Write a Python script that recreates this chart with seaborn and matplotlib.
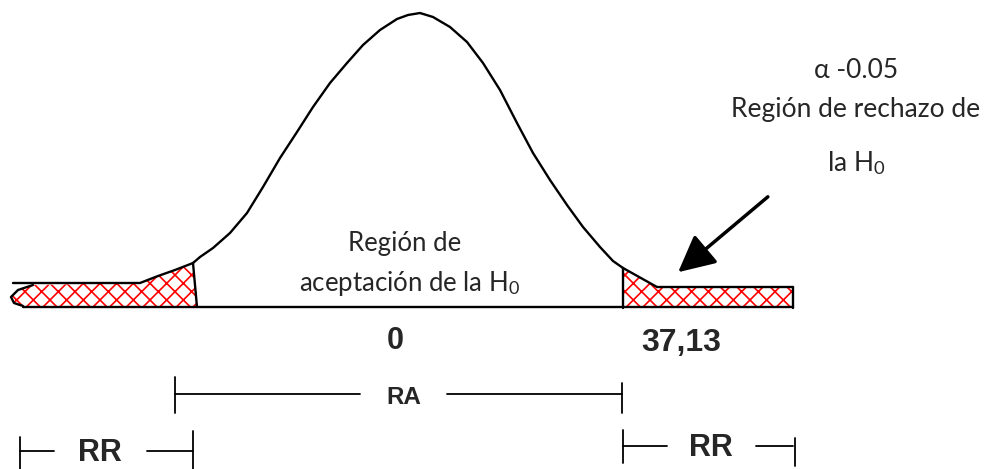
import numpy as np
import pandas as pd
import seaborn as sns
import matplotlib.pyplot as plt

# bell curve outline (x, y in picture pixels, y downwards)
curve_x = [193, 200, 213, 230, 247, 263, 280, 297, 313, 330, 347, 363, 380, 397, 408,
           420, 433, 450, 467, 483, 500, 517, 533, 550, 567, 583, 600, 613, 623]
curve_y = [263, 257, 248, 233, 213, 187, 158, 132, 107, 83, 63, 45, 30, 19, 15,
           13, 17, 27, 42, 63, 90, 123, 153, 180, 205, 227, 247, 261, 268]

# left rejection tail (top edge + rounded cap)
left_top_x = [13, 140, 158, 175, 193]
left_top_y = [283, 283, 276, 270, 263]
left_cap_x = [33, 18, 11, 14, 23]
left_cap_y = [285, 290, 297, 303, 306]

# right rejection tail
right_top_x = [623, 657, 793]
right_top_y = [268, 287, 287]

baseline_x = [23, 793]
baseline_y = [307, 307]
left_cut = 195
right_cut = 623
right_end = 793

sns.set_style('white')
plt.rcParams['font.family'] = ['Lato', 'DejaVu Sans']
plt.rcParams['mathtext.fontset'] = 'custom'
plt.rcParams['mathtext.rm'] = 'Lato'
plt.rcParams['mathtext.it'] = 'Lato:italic'
plt.rcParams['hatch.linewidth'] = 1.2

fig = plt.figure(figsize=(9.87, 4.69), dpi=100)
ax = fig.add_axes([0, 0, 1, 1])
ax.set_xlim(0, 987)
ax.set_ylim(469, 0)
ax.axis('off')

# hatched rejection regions
poly_lx = [left_cap_x[0]] + left_top_x[1:] + [left_cut + 2] + left_cap_x[::-1][:-1]
poly_ly = [left_cap_y[0]] + left_top_y[1:] + [baseline_y[0]] + left_cap_y[::-1][:-1]
ax.fill(poly_lx, poly_ly, facecolor='white', edgecolor='red', hatch='xx', linewidth=0)

poly_rx = right_top_x + [right_end, right_cut]
poly_ry = right_top_y + [baseline_y[0] + 1, baseline_y[0] + 1]
ax.fill(poly_rx, poly_ry, facecolor='white', edgecolor='red', hatch='xx', linewidth=0)

lw = 1.7
sns.lineplot(x=curve_x, y=curve_y, sort=False, color='black', lw=lw, ax=ax)
sns.lineplot(x=left_top_x, y=left_top_y, sort=False, color='black', lw=lw, ax=ax)
sns.lineplot(x=left_cap_x, y=left_cap_y, sort=False, color='black', lw=lw, ax=ax)
sns.lineplot(x=right_top_x, y=right_top_y, sort=False, color='black', lw=lw, ax=ax)
sns.lineplot(x=baseline_x, y=baseline_y, sort=False, color='black', lw=lw, ax=ax)
ax.plot([left_top_x[-1], left_cut + 2], [left_top_y[-1], baseline_y[0]], color='black', lw=lw)
ax.plot([right_cut, right_cut], [right_top_y[0], baseline_y[0] + 1], color='black', lw=lw)
ax.plot([right_end, right_end], [right_top_y[-1], baseline_y[0] + 1], color='black', lw=lw)

# arrow to right region
ax.annotate('', xy=(676, 274), xytext=(770, 195),
            arrowprops=dict(arrowstyle='-|>,head_length=0.9,head_width=0.45',
                            color='black', lw=2.5, mutation_scale=25))

# texts
ax.text(405, 243, 'Región de', ha='center', va='center', fontsize=18.5)
ax.text(410, 283, 'aceptación de la H$_0$', ha='center', va='center', fontsize=18.5)
ax.text(856, 70, 'α -0.05', ha='center', va='center', fontsize=19)
ax.text(856, 109, 'Región de rechazo de', ha='center', va='center', fontsize=19)
ax.text(856, 163, 'la H$_0$', ha='center', va='center', fontsize=19)

bold = dict(family='Liberation Sans', weight='bold', ha='center', va='center')
ax.text(395, 341, '0', fontsize=22, **bold)
ax.text(681, 343, '37,13', fontsize=23, **bold)

# brackets
ax.plot([175, 175], [377, 413], color='black', lw=1.3)
ax.plot([622, 622], [383, 413], color='black', lw=1.3)
ax.plot([175, 360], [394, 394], color='black', lw=1.3)
ax.plot([447, 622], [394, 394], color='black', lw=1.3)
ax.text(404, 398, 'RA', fontsize=17.5, **bold)

ax.plot([20, 20], [437, 469], color='black', lw=1.3)
ax.plot([193, 193], [431, 469], color='black', lw=1.3)
ax.plot([20, 54], [451, 451], color='black', lw=1.3)
ax.plot([147, 193], [451, 451], color='black', lw=1.3)
ax.text(100, 453, 'RR', fontsize=22, **bold)

ax.plot([623, 623], [430, 463], color='black', lw=1.3)
ax.plot([795, 795], [438, 466], color='black', lw=1.3)
ax.plot([623, 667], [446, 446], color='black', lw=1.3)
ax.plot([756, 793], [446, 446], color='black', lw=1.3)
ax.text(711, 448, 'RR', fontsize=22, **bold)

fig.savefig('out.png', dpi=100, facecolor='white')
